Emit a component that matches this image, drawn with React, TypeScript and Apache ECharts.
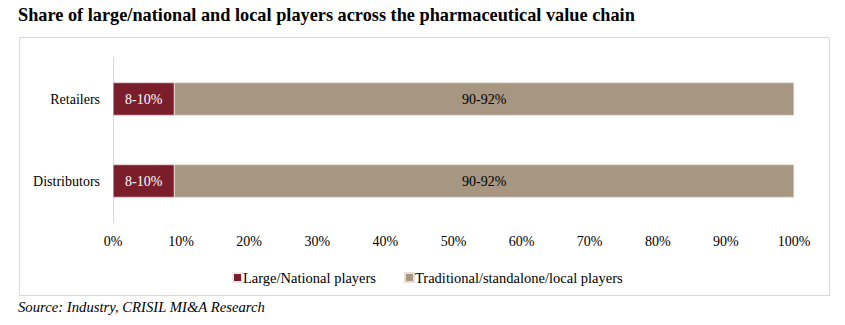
import React, { useEffect, useRef } from "react";
import * as echarts from "echarts";

const categories = ["Retailers", "Distributors"];
const largeValues = [9, 9];
const localValues = [91, 91];
const largeLabels = ["8-10%", "8-10%"];
const localLabels = ["90-92%", "90-92%"];
const seriesNames = ["Large/National players", "Traditional/standalone/local players"];

const SERIF = "Liberation Serif";

export default function App() {
  const ref = useRef<HTMLDivElement>(null);
  useEffect(() => {
    if (!ref.current) return;
    const chart = echarts.init(ref.current, null, { renderer: "svg" });
    chart.setOption({
      animation: false,
      textStyle: { fontFamily: SERIF },
      graphic: [
        {
          type: "rect",
          shape: { x: 19.5, y: 37.5, width: 810, height: 258 },
          style: { fill: "none", stroke: "#d9d9d9", lineWidth: 1 },
          z: -1,
        },
        {
          type: "text",
          left: 18,
          top: 6,
          style: {
            text: "Share of large/national and local players across the pharmaceutical value chain",
            fontFamily: SERIF,
            fontWeight: "bold",
            fontSize: 18.3,
            fill: "#000",
          },
        },
        {
          type: "text",
          left: 18,
          top: 299,
          style: {
            text: "Source: Industry, CRISIL MI&A Research",
            fontFamily: SERIF,
            fontStyle: "italic",
            fontSize: 14.7,
            fill: "#000",
          },
        },
      ],
      grid: { left: 113, right: 51, top: 58, bottom: 103 },
      legend: {
        left: 227,
        top: 265,
        itemWidth: 9,
        itemHeight: 9,
        itemGap: 28,
        icon: "rect",
        textStyle: { fontFamily: SERIF, fontSize: 14.5, color: "#000", padding: [0, 0, 0, -4] },
        data: seriesNames,
      },
      xAxis: {
        type: "value",
        min: 0,
        max: 100,
        interval: 10,
        axisLine: { show: false },
        axisTick: { show: false },
        splitLine: { show: false },
        axisLabel: { formatter: "{value}%", fontFamily: SERIF, fontSize: 14, color: "#000", margin: 12 },
      },
      yAxis: {
        type: "category",
        data: categories,
        inverse: true,
        axisLine: { show: true, lineStyle: { color: "#d9d9d9", width: 1 } },
        axisTick: { show: false },
        axisLabel: { fontFamily: SERIF, fontSize: 14, color: "#000", margin: 13 },
      },
      series: [
        {
          name: seriesNames[0],
          type: "bar",
          stack: "s",
          barWidth: "40%",
          data: largeValues,
          itemStyle: { color: "#7B1E2B", borderColor: "#f2e8e8", borderWidth: 0.5 },
          label: {
            show: true,
            position: "inside",
            formatter: (p: any) => largeLabels[p.dataIndex],
            color: "#fff",
            fontFamily: SERIF,
            fontSize: 14,
          },
        },
        {
          name: seriesNames[1],
          type: "bar",
          stack: "s",
          barWidth: "40%",
          data: localValues,
          itemStyle: { color: "#A69682", borderColor: "#e6dfd6", borderWidth: 0.5 },
          label: {
            show: true,
            position: "inside",
            formatter: (p: any) => localLabels[p.dataIndex],
            color: "#000",
            fontFamily: SERIF,
            fontSize: 14,
          },
        },
      ],
    });
    return () => chart.dispose();
  }, []);
  return (
    <div
      ref={ref}
      style={{ position: "fixed", left: 0, top: 0, width: 845, height: 325, background: "#fff" }}
    />
  );
}
